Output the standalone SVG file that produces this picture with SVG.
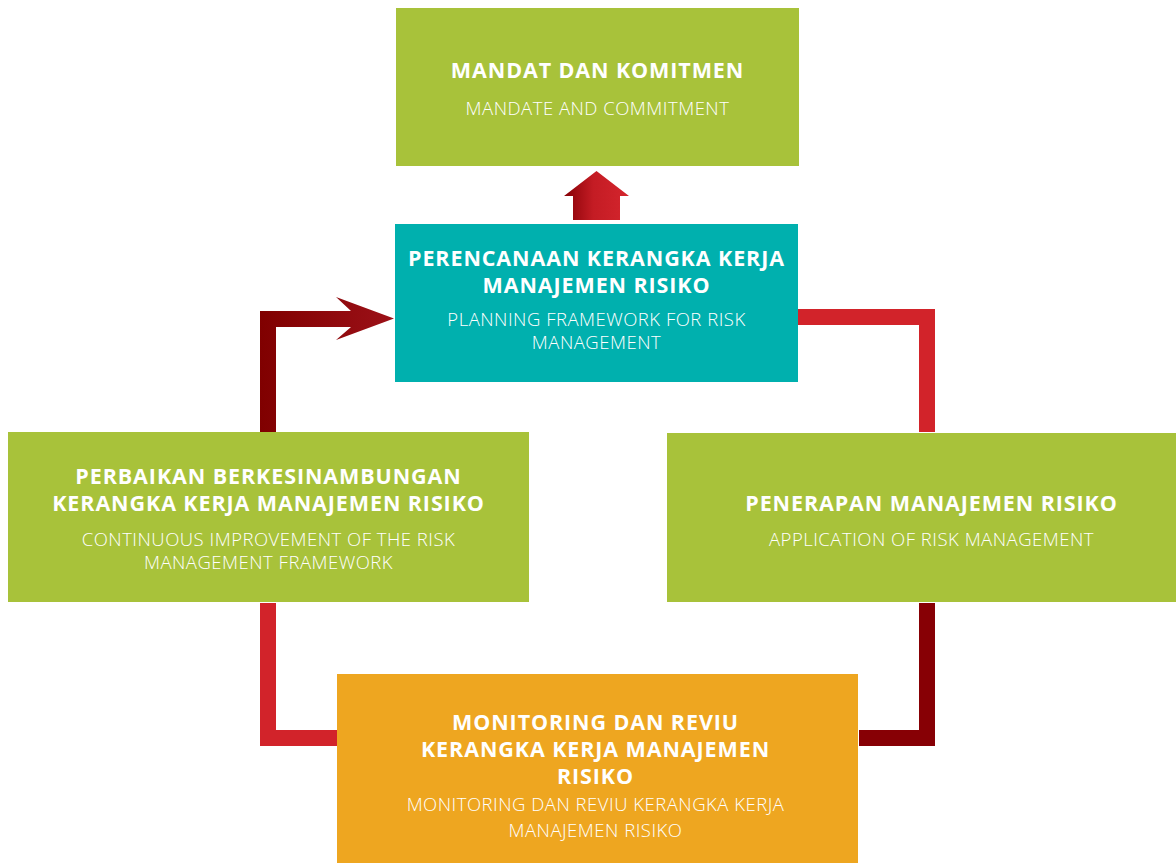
<svg xmlns="http://www.w3.org/2000/svg" width="1176" height="863" viewBox="0 0 1176 863">
  <defs>
    <linearGradient id="gradUp" x1="0" y1="0" x2="1" y2="0">
      <stop offset="0" stop-color="#860006"/>
      <stop offset="0.45" stop-color="#c41c24"/>
      <stop offset="1" stop-color="#d4252d"/>
    </linearGradient>
    <linearGradient id="gradBack" x1="260" y1="0" x2="394" y2="0" gradientUnits="userSpaceOnUse">
      <stop offset="0" stop-color="#800000"/>
      <stop offset="1" stop-color="#9c1118"/>
    </linearGradient>
    <style>
      .green { fill: #a8c23a; }
      .teal { fill: #00b0ae; }
      .orange { fill: #eea620; }
      .red { fill: #d2232a; }
      .dark { fill: #870005; }
      .title { font-family: "Open Sans", "Liberation Sans", sans-serif; font-weight: 700; font-size: 21.5px; letter-spacing: 0.9px; fill: #ffffff; text-anchor: middle; }
      .sub { font-family: "Open Sans", "Liberation Sans", sans-serif; font-weight: 300; font-size: 18.5px; letter-spacing: 0.5px; fill: #ffffff; text-anchor: middle; }
    </style>
  </defs>
  <rect width="1176" height="863" fill="#ffffff"/>

  <!-- connectors -->
  <g id="connectors">
    <!-- up arrow toward the mandate box -->
    <polygon points="596.5,171 629,196 620,196 620,220 573,220 573,196 564,196" fill="url(#gradUp)"/>
    <!-- planning -> application -->
    <polygon class="red" points="798,309 935,309 935,432 919,432 919,325 798,325"/>
    <!-- application -> monitoring -->
    <polygon class="dark" points="919,603 935,603 935,746 859,746 859,730 919,730"/>
    <!-- monitoring -> improvement -->
    <polygon class="red" points="337,730 337,746 260,746 260,603 276,603 276,730"/>
    <!-- improvement -> planning, with arrowhead -->
    <polygon fill="url(#gradBack)" points="260,432 260,311 351,311 336,297 394,318.5 336,340 351,327 276,327 276,432"/>
  </g>

  <g id="node-mandate">
    <rect class="green" x="396" y="8" width="403" height="158"/>
    <text class="title" x="597.5" y="78">MANDAT DAN KOMITMEN</text>
    <text class="sub" x="597.5" y="115">MANDATE AND COMMITMENT</text>
  </g>

  <g id="node-planning">
    <rect class="teal" x="395" y="224" width="403" height="158"/>
    <text class="title"><tspan x="596.5" y="266">PERENCANAAN KERANGKA KERJA</tspan><tspan x="596.5" y="292.5">MANAJEMEN RISIKO</tspan></text>
    <text class="sub"><tspan x="596.5" y="326">PLANNING FRAMEWORK FOR RISK</tspan><tspan x="596.5" y="349">MANAGEMENT</tspan></text>
  </g>

  <g id="node-improvement">
    <rect class="green" x="8" y="432" width="521" height="170"/>
    <text class="title"><tspan x="268.5" y="484">PERBAIKAN BERKESINAMBUNGAN</tspan><tspan x="268.5" y="511">KERANGKA KERJA MANAJEMEN RISIKO</tspan></text>
    <text class="sub"><tspan x="268.5" y="545.5">CONTINUOUS IMPROVEMENT OF THE RISK</tspan><tspan x="268.5" y="569">MANAGEMENT FRAMEWORK</tspan></text>
  </g>

  <g id="node-application">
    <rect class="green" x="667" y="433" width="509" height="169"/>
    <text class="title" x="931.5" y="510.5">PENERAPAN MANAJEMEN RISIKO</text>
    <text class="sub" x="931.5" y="545.5">APPLICATION OF RISK MANAGEMENT</text>
  </g>

  <g id="node-monitoring">
    <rect class="orange" x="337" y="674" width="521" height="189"/>
    <text class="title"><tspan x="595.5" y="730">MONITORING DAN REVIU</tspan><tspan x="595.5" y="756.5">KERANGKA KERJA MANAJEMEN</tspan><tspan x="595.5" y="783.5">RISIKO</tspan></text>
    <text class="sub"><tspan x="595.5" y="811">MONITORING DAN REVIU KERANGKA KERJA</tspan><tspan x="595.5" y="837">MANAJEMEN RISIKO</tspan></text>
  </g>
</svg>
